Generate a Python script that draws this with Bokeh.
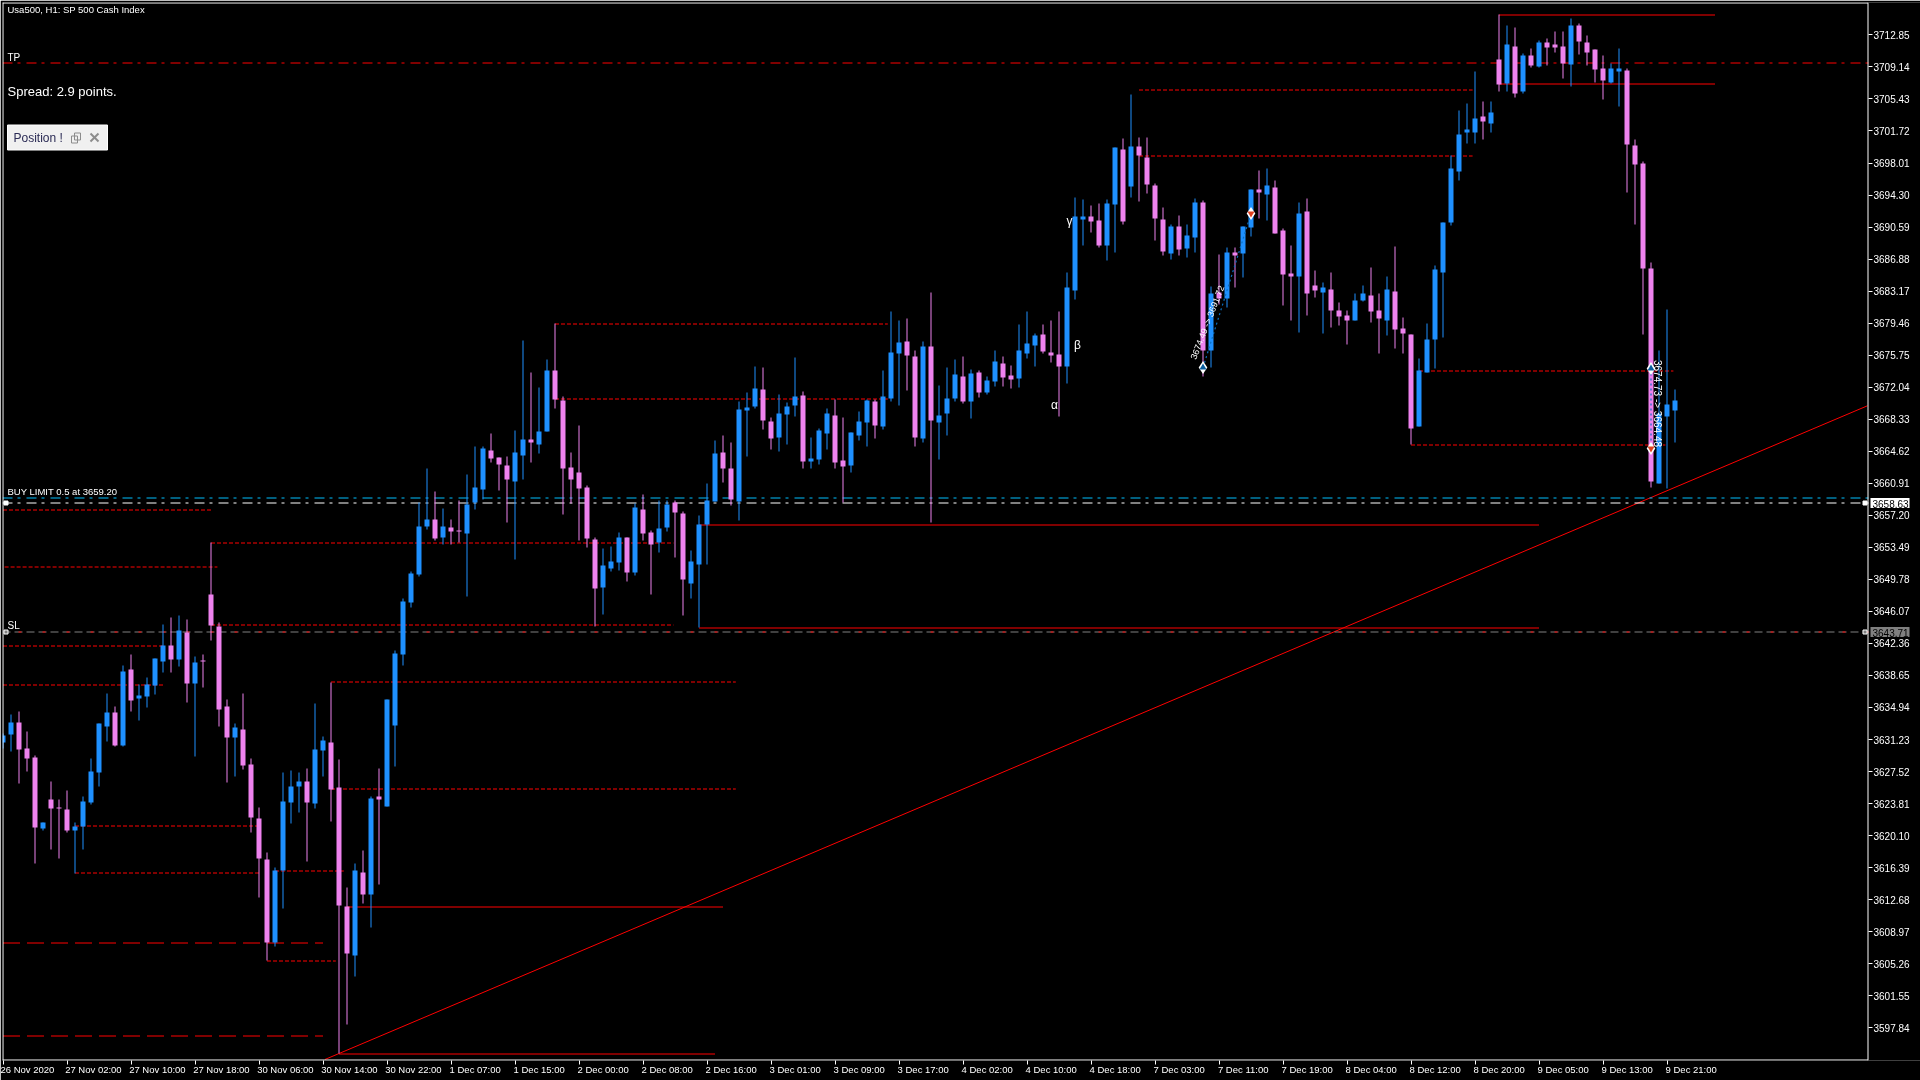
from bokeh.plotting import figure
from bokeh.models import ColumnDataSource, FixedTicker, Range1d
from bokeh.core.properties import value
from bokeh.embed import file_html
from bokeh.resources import INLINE
import math

highs = [
3631.97,3634.10,3634.45,3632.15,3629.40,3621.60,3626.34,3624.26,3625.32,3621.60,
3624.61,3629.00,3633.08,3636.54,3635.03,3639.77,3641.06,3637.60,3638.40,3640.62,
3644.56,3645.36,3645.58,3645.14,3640.79,3641.06,3654.00,3644.74,3635.87,3633.08,
3636.54,3629.00,3623.33,3618.14,3616.37,3627.41,3627.67,3627.41,3627.85,3635.39,
3631.57,3637.87,3628.91,3614.06,3616.86,3618.36,3624.61,3627.85,3635.87,3641.59,
3647.62,3650.69,3658.64,3662.62,3659.96,3657.99,3656.71,3658.91,3661.93,3665.17,
3665.17,3666.64,3663.89,3664.01,3667.02,3677.45,3673.74,3672.00,3675.21,3679.38,
3670.92,3664.47,3667.60,3660.65,3654.63,3653.35,3653.59,3655.21,3654.63,3658.53,
3659.61,3655.44,3658.91,3658.91,3658.91,3657.64,3653.12,3657.18,3660.88,3665.86,
3666.44,3665.63,3670.38,3671.42,3674.44,3674.32,3668.53,3671.19,3670.27,3675.48,
3671.54,3666.21,3667.25,3669.57,3670.61,3668.53,3666.79,3669.22,3670.61,3670.61,
3673.98,3680.81,3679.77,3680.00,3676.30,3677.34,3683.01,3672.24,3674.33,3675.25,
3675.60,3674.10,3673.98,3673.28,3676.30,3675.60,3674.56,3679.31,3680.81,3678.27,
3679.31,3679.77,3680.81,3685.33,3694.02,3693.79,3693.09,3693.32,3693.79,3699.81,
3700.85,3705.95,3700.97,3700.97,3695.64,3692.86,3690.89,3691.93,3690.89,3693.90,
3693.67,3683.71,3687.42,3688.19,3688.23,3690.66,3694.94,3697.15,3697.38,3695.99,
3690.43,3688.46,3693.44,3693.90,3685.56,3684.17,3685.32,3681.85,3680.92,3682.89,
3683.82,3685.90,3682.89,3684.86,3688.34,3680.11,3678.14,3675.36,3679.42,3686.14,
3691.12,3698.84,3704.09,3704.90,3708.61,3705.13,3705.13,3715.17,3713.93,3713.70,
3710.69,3711.27,3712.20,3712.43,3713.24,3713.24,3714.75,3714.17,3712.78,3711.15,
3710.46,3709.53,3711.27,3708.95,3700.73,3698.18,3686.48,3676.29,3681.04,3671.77,
]
lows = [
3630.20,3629.84,3626.12,3627.54,3616.86,3620.67,3618.50,3617.43,3620.45,3615.75,
3618.50,3623.68,3625.77,3631.00,3630.42,3630.38,3634.45,3633.43,3634.94,3636.45,
3638.98,3638.98,3639.69,3635.52,3629.27,3637.25,3642.70,3632.73,3626.25,3626.92,
3627.76,3620.45,3612.91,3605.60,3607.24,3611.62,3621.51,3622.75,3617.08,3623.24,
3626.92,3621.73,3594.87,3598.24,3603.78,3612.24,3609.45,3614.42,3623.46,3628.12,
3639.82,3646.52,3650.11,3655.56,3654.28,3653.82,3653.82,3654.01,3647.79,3657.87,
3659.03,3663.32,3660.07,3656.37,3652.08,3661.35,3663.32,3664.36,3666.91,3669.57,
3657.29,3658.57,3654.28,3653.47,3644.32,3645.71,3650.69,3650.81,3649.53,3650.23,
3654.28,3648.03,3652.89,3655.32,3652.31,3645.59,3647.56,3644.17,3651.50,3658.80,
3661.00,3658.33,3656.60,3664.01,3669.57,3667.14,3664.82,3664.59,3665.40,3668.64,
3662.62,3662.62,3663.08,3664.82,3662.62,3658.64,3662.16,3665.86,3665.17,3666.10,
3667.15,3670.39,3669.93,3671.66,3665.18,3665.64,3656.37,3663.67,3666.45,3670.39,
3670.16,3668.42,3670.85,3671.20,3672.13,3672.13,3671.89,3672.01,3675.37,3674.44,
3675.95,3674.91,3668.65,3672.47,3682.20,3688.46,3689.96,3688.23,3686.72,3687.65,
3690.89,3694.02,3693.55,3694.48,3689.04,3687.30,3686.84,3687.30,3687.07,3687.65,
3673.28,3674.33,3681.62,3681.28,3683.59,3684.75,3689.50,3691.59,3691.35,3689.85,
3681.51,3679.77,3678.38,3680.35,3682.44,3678.26,3678.95,3679.19,3676.98,3679.76,
3681.96,3679.53,3675.94,3678.03,3676.52,3675.94,3665.36,3667.49,3673.74,3674.21,
3677.80,3690.77,3695.98,3700.27,3700.27,3700.73,3701.54,3706.29,3706.29,3705.59,
3706.06,3709.07,3709.07,3709.30,3710.81,3707.80,3706.87,3710.58,3709.30,3707.33,
3705.36,3707.22,3704.55,3694.59,3690.88,3678.14,3660.42,3660.88,3660.31,3665.63,
]
opens = [
3630.86,3631.79,3633.21,3630.20,3629.13,3620.93,3624.26,3623.33,3623.11,3620.67,
3621.20,3623.95,3627.41,3632.73,3634.37,3630.51,3639.33,3635.96,3636.23,3637.51,
3640.26,3642.08,3640.48,3643.68,3637.69,3640.39,3648.02,3644.30,3635.03,3631.44,
3632.37,3628.34,3622.09,3617.34,3607.72,3616.01,3623.95,3625.77,3626.34,3623.82,
3629.93,3630.86,3625.68,3611.85,3606.22,3615.84,3613.26,3624.61,3623.46,3632.86,
3641.06,3647.10,3650.34,3655.90,3656.71,3654.63,3655.79,3655.44,3655.09,3658.64,
3660.19,3664.71,3663.89,3662.97,3661.11,3664.13,3665.98,3665.40,3666.91,3673.97,
3670.50,3662.74,3662.16,3660.42,3654.40,3648.84,3651.04,3651.73,3654.63,3650.57,
3657.87,3655.21,3654.05,3655.79,3658.68,3657.41,3649.30,3651.50,3656.13,3658.80,
3664.47,3662.62,3658.80,3669.34,3669.80,3671.77,3668.06,3666.21,3668.88,3669.92,
3671.08,3663.43,3663.66,3666.67,3668.76,3663.55,3662.97,3666.44,3667.95,3670.38,
3667.49,3670.74,3675.95,3677.34,3675.60,3666.10,3676.76,3667.96,3669.00,3670.74,
3673.28,3670.39,3673.75,3671.43,3672.70,3674.79,3673.40,3673.05,3675.95,3676.88,
3678.15,3676.06,3675.83,3674.44,3683.25,3691.47,3691.82,3691.35,3688.46,3693.21,
3699.58,3695.29,3699.93,3698.65,3695.41,3691.47,3687.53,3690.66,3688.11,3689.38,
3693.44,3676.30,3683.01,3682.32,3687.65,3687.53,3690.54,3694.94,3694.37,3695.18,
3690.20,3685.22,3684.87,3692.40,3683.82,3683.01,3683.36,3680.92,3680.34,3679.76,
3682.08,3682.66,3680.92,3679.76,3683.12,3678.84,3678.14,3667.49,3673.74,3677.56,
3685.32,3691.12,3697.02,3701.54,3701.54,3703.39,3702.58,3710.00,3707.22,3711.50,
3706.29,3710.46,3709.19,3711.97,3711.73,3711.50,3709.42,3713.93,3711.97,3711.15,
3708.95,3707.33,3708.61,3708.72,3700.03,3697.95,3685.79,3660.88,3668.65,3669.34,
]
closes = [
3631.71,3633.21,3630.07,3629.00,3621.02,3621.60,3623.24,3623.24,3620.67,3621.20,
3624.04,3627.54,3633.08,3634.37,3630.51,3639.11,3635.74,3636.32,3637.56,3640.62,
3642.08,3640.48,3643.85,3637.69,3640.13,3640.31,3644.43,3634.72,3631.44,3632.64,
3628.20,3622.18,3617.43,3607.72,3616.01,3624.04,3625.77,3626.34,3623.95,3630.07,
3631.13,3625.41,3611.98,3606.44,3616.01,3613.26,3624.39,3624.26,3635.87,3641.19,
3647.22,3650.46,3655.90,3656.71,3654.51,3655.90,3655.32,3655.32,3658.45,3660.42,
3664.94,3663.78,3663.08,3661.35,3664.47,3665.98,3665.63,3666.91,3673.97,3670.61,
3662.62,3661.35,3660.30,3654.51,3648.72,3651.39,3651.85,3654.63,3650.57,3658.10,
3655.09,3653.82,3655.67,3658.45,3657.52,3649.76,3651.85,3656.13,3658.91,3664.36,
3662.62,3659.03,3669.45,3669.69,3671.89,3668.18,3666.10,3668.99,3669.80,3670.96,
3663.43,3663.78,3667.02,3668.99,3663.32,3662.85,3666.79,3668.06,3670.50,3667.60,
3670.97,3676.06,3677.22,3675.72,3666.22,3676.76,3668.19,3668.77,3670.74,3673.52,
3670.39,3673.63,3671.43,3672.82,3675.02,3673.17,3672.94,3676.30,3677.11,3678.03,
3676.18,3675.72,3674.44,3683.59,3691.82,3691.82,3691.24,3688.46,3693.32,3699.81,
3691.24,3699.93,3698.84,3695.52,3691.59,3687.76,3690.66,3687.99,3689.62,3693.44,
3676.30,3682.90,3682.32,3687.65,3687.30,3690.66,3694.94,3694.60,3695.41,3689.85,
3685.10,3684.87,3692.16,3682.90,3683.25,3683.59,3680.92,3680.23,3679.76,3682.08,
3682.89,3680.81,3680.00,3683.36,3678.72,3678.26,3667.26,3673.97,3677.56,3685.67,
3691.12,3697.37,3701.31,3701.89,3703.16,3702.81,3703.86,3707.10,3711.73,3706.06,
3710.46,3709.30,3711.97,3711.39,3711.39,3709.53,3713.93,3712.08,3710.81,3708.84,
3707.56,3708.95,3708.95,3700.15,3697.83,3685.79,3661.12,3668.99,3670.04,3670.50,
]

price_ticks = [3712.85,3709.14,3705.43,3701.72,3698.01,3694.30,3690.59,3686.88,3683.17,3679.46,
               3675.75,3672.04,3668.33,3664.62,3660.91,3657.20,3653.49,3649.78,3646.07,3642.36,
               3638.65,3634.94,3631.23,3627.52,3623.81,3620.10,3616.39,3612.68,3608.97,3605.26,
               3601.55,3597.84]
time_labels = ["26 Nov 2020","27 Nov 02:00","27 Nov 10:00","27 Nov 18:00","30 Nov 06:00","30 Nov 14:00",
               "30 Nov 22:00","1 Dec 07:00","1 Dec 15:00","2 Dec 00:00","2 Dec 08:00","2 Dec 16:00",
               "3 Dec 01:00","3 Dec 09:00","3 Dec 17:00","4 Dec 02:00","4 Dec 10:00","4 Dec 18:00",
               "7 Dec 03:00","7 Dec 11:00","7 Dec 19:00","8 Dec 04:00","8 Dec 12:00","8 Dec 20:00",
               "9 Dec 05:00","9 Dec 13:00","9 Dec 21:00"]
time_bars = [8 * i for i in range(len(time_labels))]

tp_price = 3709.62
buy_limit_price = 3659.20
bid_price = 3658.63
sl_price = 3643.71

dashed_levels = [
    (3657.82, 0.0, 26.0), (3654.00, 26.0, 83.8), (3651.21, 0.2, 26.8), (3644.52, 26.0, 83.8),
    (3642.08, 0.0, 20.0), (3637.56, 0.0, 20.0), (3637.91, 41.0, 91.6), (3625.50, 41.0, 91.6),
    (3621.20, 9.0, 32.0), (3615.79, 9.0, 32.0), (3616.01, 34.0, 42.6), (3605.60, 33.0, 41.6),
    (3679.38, 69.0, 110.6), (3670.69, 69.0, 110.6), (3706.49, 142.0, 183.7), (3698.84, 142.0, 183.7),
    (3673.93, 177.0, 208.8), (3665.36, 176.0, 207.8),
]
long_dash_levels = [(3607.68, 0.0, 40.0), (3596.91, 0.0, 40.0)]
solid_levels = [
    (3611.85, 43.0, 90.0), (3594.82, 42.0, 89.0), (3656.10, 87.0, 192.0), (3644.17, 87.0, 192.0),
    (3715.17, 187.0, 214.0), (3707.18, 187.0, 214.0),
]
trend_bars = [40.25, 233.06]
trend_prices = [3594.17, 3669.89]

trade_bars = [[150, 156], [206, 206]]
trade_prices = [[3674.32, 3692.16], [3674.20, 3664.95]]

BULL, BEAR = "#1E90FF", "#EE82EE"
W, H = 1920, 1080
PLOT_L, PLOT_T, PLOT_R, PLOT_B = 2, 2, 1868, 1060
PX_PER_UNIT = 8.633

def px(x):
    return (x - 2.5) / 8.0

def py(y):
    return 3712.85 - (y - 34.4) / PX_PER_UNIT

def to_y(price):
    return 34.4 + (3712.85 - price) * PX_PER_UNIT

def snap_line(price):
    return py(math.floor(to_y(price)) + 0.5)

def snap_edge(price):
    return py(round(to_y(price)))

# the frame runs to the page edge so the price tags right of the axis are not clipped
x0, x1 = px(PLOT_L), px(PLOT_R)
y0, y1 = py(PLOT_B), py(PLOT_T)

p = figure(width=W, height=H, output_backend="svg", toolbar_location=None,
           x_range=Range1d(x0, px(W)), y_range=Range1d(y0, y1),
           x_axis_location="below", y_axis_location="right",
           background_fill_color="black", border_fill_color="black",
           min_border_left=PLOT_L, min_border_right=0,
           min_border_top=PLOT_T, min_border_bottom=H - PLOT_B)
p.styles = {"position": "fixed", "left": "0", "top": "0"}
p.grid.visible = False
p.outline_line_color = None

FONT = "Liberation Sans"
offs = [t + len(l) * 2.2 / 8 for t, l in zip(time_bars, time_labels)]
ax = p.xaxis[0]
ax.ticker = FixedTicker(ticks=offs, minor_ticks=time_bars)
ax.major_label_overrides = {o: l for o, l in zip(offs, time_labels)}
ax.major_tick_out = 0
ax.major_tick_in = 0
ax.minor_tick_out = 4
ax.minor_tick_in = 0
ax.minor_tick_line_color = "white"
ax.axis_line_color = None
ax.major_label_text_color = "white"
ax.major_label_text_font = FONT
ax.major_label_text_font_size = "9.5px"
ax.major_label_standoff = -1

ay = p.yaxis[0]
ay.fixed_location = x1
ay.ticker = FixedTicker(ticks=price_ticks)
ay.major_label_overrides = {v: f"{v:.2f}" for v in price_ticks}
ay.major_tick_out = 4
ay.major_tick_in = 0
ay.minor_tick_out = 0
ay.minor_tick_in = 0
ay.major_tick_line_color = "white"
ay.axis_line_color = None
ay.major_label_text_color = "white"
ay.major_label_text_font = FONT
ay.major_label_text_font_size = "10px"
ay.major_label_standoff = 1

RED = "#FF0000"
for lev, a, b in dashed_levels:
    p.line([a, b], [snap_line(lev)] * 2, line_color=RED, line_width=1, line_dash="4 2")
for lev, a, b in long_dash_levels:
    p.line([a, b], [snap_line(lev)] * 2, line_color=RED, line_width=1, line_dash="17 7")
for lev, a, b in solid_levels:
    p.line([a, b], [snap_line(lev)] * 2, line_color=RED, line_width=1)
p.line(trend_bars, trend_prices, line_color=RED, line_width=1)

p.line([x0, x1], [snap_line(tp_price)] * 2, line_color=RED, line_width=1, line_dash="10 5 3 6")
p.line([x0, x1], [snap_line(buy_limit_price)] * 2, line_color="#00BFFF", line_width=1, line_dash="10 5 3 6")
p.line([x0, x1], [snap_line(bid_price)] * 2, line_color="white", line_width=1, line_dash="10 5 3 6")
p.line([x0, x1], [snap_line(sl_price)] * 2, line_color="#808080", line_width=1, line_dash="8 4")
p.line([x0, x1], [snap_line(sl_price)] * 2, line_color=RED, line_width=1, line_dash="3 21", line_dash_offset=-16)

bars = list(range(len(highs)))
tops, bots = [], []
for o, c in zip(opens, closes):
    t, b = snap_edge(max(o, c)), snap_edge(min(o, c))
    if t == b:
        t = b + 1.0 / PX_PER_UNIT
    tops.append(t)
    bots.append(b)
src = ColumnDataSource(dict(
    x=bars, h=[snap_edge(v) for v in highs], l=[snap_edge(v) for v in lows], t=tops, b=bots,
    color=[BULL if c >= o else BEAR for o, c in zip(opens, closes)]))
p.segment("x", "h", "x", "l", source=src, line_color="color", line_width=1)
p.vbar("x", 0.625, "t", "b", source=src, fill_color="color", line_color=None)

for bs, ps in zip(trade_bars, trade_prices):
    p.line(bs, ps, line_color="#0A6FC0", line_width=1.2, line_dash="2 3")
    p.scatter([bs[0]], [ps[0]], marker="diamond", size=13, fill_color="white", line_color=None)
    p.scatter([bs[0]], [ps[0]], marker="triangle", size=7, fill_color="#0A5FA0", line_color=None)
    p.scatter([bs[1]], [ps[1]], marker="diamond", size=13, fill_color="white", line_color=None)
    p.scatter([bs[1]], [ps[1]], marker="inverted_triangle", size=7, fill_color="#E04020", line_color=None)

def txt(x, y, s, size, color="white", font=FONT, angle=0.0, align="left"):
    p.text([px(x)], [py(y)], text=[s], text_color=color, text_font=value(font),
           text_font_size=size, text_baseline="middle", text_align=align, angle=angle)

txt(7, 9, "Usa500, H1:  SP 500 Cash Index", "9.5px")
txt(7, 56.5, "TP", "10px")
txt(7, 91, "Spread: 2.9 points.", "13px")
txt(7, 490.5, "BUY LIMIT 0.5 at 3659.20", "9.5px")
txt(7, 625, "SL", "10px")
txt(1054, 404, "\u03b1", "12px", align="center")
txt(1077, 344, "\u03b2", "12px", align="center")
txt(1069, 220, "\u03b3", "12px", align="center")
txt(1207, 322, "3674.49 -> 3691.72", "9px", angle=1.2, align="center")
txt(1657, 403, "3674.73 -> 3664.48", "10px", angle=-1.5708, align="center")

p.quad(left=[px(7)], right=[px(107)], top=[py(124.5)], bottom=[py(149.5)],
       fill_color="#F0F0F0", line_color="white", line_width=1)
txt(13, 137, "Position !", "12px", color="#2B2B55")
p.quad(left=[px(71), px(74)], right=[px(77), px(80)], top=[py(135.5), py(132.5)], bottom=[py(142.5), py(139.5)],
       fill_color=None, line_color="#8C8C8C", line_width=1)
p.segment([px(90), px(90)], [py(133), py(141)], [px(98), px(98)], [py(141), py(133)],
          line_color="#8C8C8C", line_width=2)

# frame lines
p.segment([x0, x0, px(2.5), px(1867.5)], [py(2.5), py(1059.5), y0, y0],
          [px(1867.5), px(1867.5), px(2.5), px(1867.5)], [py(2.5), py(1059.5), y1, y1],
          line_color="white", line_width=1)

for val, bg in ((bid_price, "white"), (sl_price, "#808080")):
    yy = math.floor(to_y(val)) + 0.5
    for a in (3, 1862):
        p.quad(left=[px(a + 0.5)], right=[px(a + 4.5)], top=[py(yy - 2)], bottom=[py(yy + 2)],
               fill_color=bg, line_color="white", line_width=1)
    p.quad(left=[px(1870)], right=[px(1909)], top=[py(yy - 5)], bottom=[py(yy + 5)],
           fill_color=bg, line_color=None)
    txt(1872, yy + 0.5, f"{val:.2f}", "10px", color="black")

open("out.html", "w").write(file_html(p, INLINE))
